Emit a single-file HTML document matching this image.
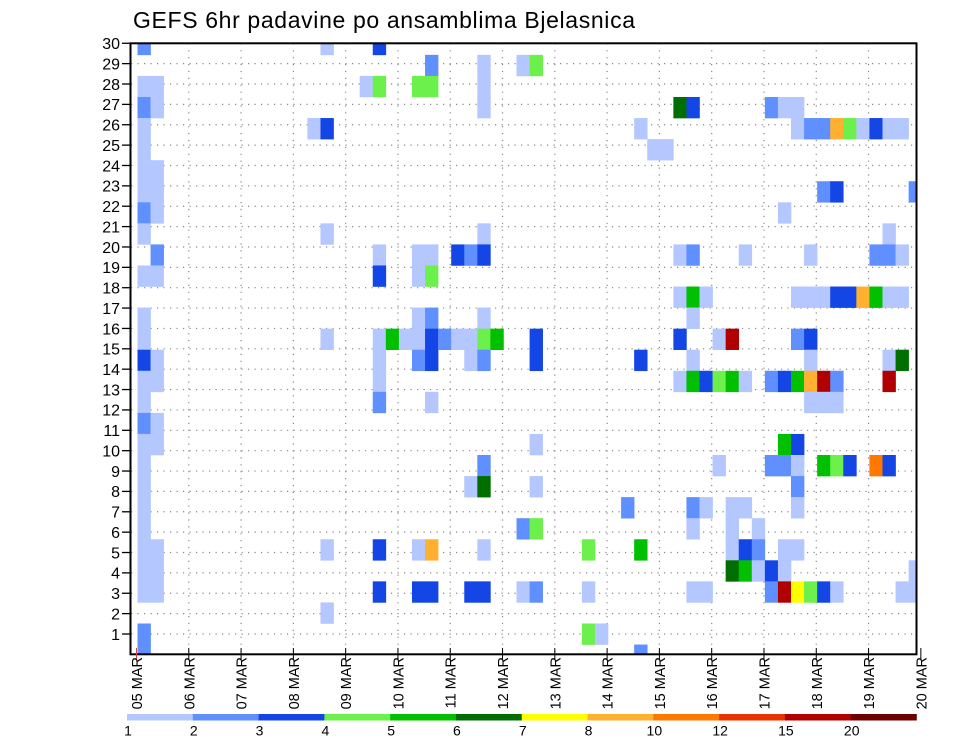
<!DOCTYPE html>
<html><head><meta charset="utf-8">
<style>
html,body{margin:0;padding:0;background:#fff;}
svg{display:block;font-family:"Liberation Sans",sans-serif;}
</style></head>
<body>
<svg id="chart" width="960" height="742" viewBox="0 0 960 742" xmlns="http://www.w3.org/2000/svg">
<text x="133" y="28" font-size="23" textLength="502" lengthAdjust="spacing" fill="#000">GEFS 6hr padavine po ansamblima Bjelasnica</text>
<g id="grid"></g>
<g id="cells"></g>
<rect x="130.5" y="43.3" width="786" height="611" fill="none" stroke="#000" stroke-width="2"/>
<g id="yaxis"></g>
<g id="xaxis"></g>
<g id="colorbar"></g>
</svg>
<script>
// ---- data ----
const dayLabels = ["05 MAR","06 MAR","07 MAR","08 MAR","09 MAR","10 MAR","11 MAR","12 MAR","13 MAR","14 MAR","15 MAR","16 MAR","17 MAR","18 MAR","19 MAR","20 MAR"];
const memberTicks = [1,2,3,4,5,6,7,8,9,10,11,12,13,14,15,16,17,18,19,20,21,22,23,24,25,26,27,28,29,30];
const levelBounds = [1,2,3,4,5,6,7,8,10,12,15,20];
const levelColors = ["#b4c8ff","#6090ff","#1446e6","#6cf04c","#00c000","#006e00","#ffff00","#ffb030","#ff7800","#e83200","#b00000","#700000"];
const cellRow = [];
const cellStep = [];
const cellValue = [];
const rowsData = [
 [[0,2],[14,1],[18,3]],
 [[22,2],[26,1],[29,1],[30,4]],
 [[0,1],[1,1],[17,1],[18,4],[21,4],[22,4],[26,1]],
 [[0,2],[1,1],[26,1],[41,6],[42,3],[48,2],[49,1],[50,1]],
 [[0,1],[13,1],[14,3],[38,1],[50,1],[51,2],[52,2],[53,8],[54,4],[55,1],[56,3],[57,1],[58,1]],
 [[0,1],[39,1],[40,1]],
 [[0,1],[1,1]],
 [[0,1],[1,1],[52,2],[53,3],[59,2]],
 [[0,2],[1,1],[49,1]],
 [[0,1],[14,1],[26,1],[57,1]],
 [[1,2],[18,1],[21,1],[22,1],[24,3],[25,2],[26,3],[41,1],[42,2],[46,1],[51,1],[56,2],[57,2],[58,1]],
 [[0,1],[1,1],[18,3],[21,1],[22,4]],
 [[41,1],[42,5],[43,1],[50,1],[51,1],[52,1],[53,3],[54,3],[55,8],[56,5],[57,1],[58,1]],
 [[0,1],[21,1],[22,2],[26,1],[42,1]],
 [[0,1],[14,1],[18,1],[19,5],[20,1],[21,1],[22,3],[23,2],[24,1],[25,1],[26,4],[27,5],[30,3],[41,3],[44,1],[45,15],[50,2],[51,3]],
 [[0,3],[1,1],[18,1],[21,2],[22,3],[25,1],[26,2],[30,3],[38,3],[42,1],[51,1],[57,1],[58,6]],
 [[0,1],[1,1],[18,1],[41,1],[42,5],[43,3],[44,4],[45,5],[46,1],[48,2],[49,3],[50,5],[51,8],[52,15],[53,2],[57,15]],
 [[0,1],[18,2],[22,1],[51,1],[52,1],[53,1]],
 [[0,2],[1,1]],
 [[0,1],[1,1],[30,1],[49,5],[50,3]],
 [[0,1],[26,2],[44,1],[48,2],[49,2],[50,1],[52,5],[53,4],[54,3],[56,10],[57,3]],
 [[0,1],[25,1],[26,6],[30,1],[50,2]],
 [[0,1],[37,2],[42,2],[43,1],[45,1],[46,1],[50,1]],
 [[0,1],[29,2],[30,4],[42,1],[45,1],[47,1]],
 [[0,1],[1,1],[14,1],[18,3],[21,1],[22,8],[26,1],[34,4],[38,5],[45,1],[46,3],[47,2],[49,1],[50,1]],
 [[0,1],[1,1],[45,6],[46,5],[47,1],[48,3],[49,1],[59,1]],
 [[0,1],[1,1],[18,3],[21,3],[22,3],[25,3],[26,3],[29,1],[30,2],[34,1],[42,1],[43,1],[48,2],[49,15],[50,7],[51,4],[52,3],[53,1],[58,1],[59,1]],
 [[14,1]],
 [[0,2],[34,4],[35,1]],
 [[0,2],[38,2]]
];
const levelValue = {1:1.5,2:2.5,3:3.5,4:4.5,5:5.5,6:6.5,7:7.5,8:9,10:11,12:13,15:17,20:25};
rowsData.forEach((row, r) => row.forEach(([s, l]) => { cellRow.push(r); cellStep.push(s); cellValue.push(levelValue[l]); }));

// ---- scales ----
const NS = "http://www.w3.org/2000/svg";
const plotL = 131, plotR = 916.5, plotT = 43.3, plotB = 654;
const dayX = d => 136.5 + 52.29 * d;
const stepX = s => 137.5 + 13.07 * s;
const stepW = 13.07;
const rowY = r => 33.8 + 21.06 * r;
const rowH = 21.06;
const tickY = v => 634 - 20.37 * (v - 1);
const colorFor = v => { let c = null; levelBounds.forEach((b, i) => { if (v >= b) c = levelColors[i]; }); return c; };
function mk(tag, attrs, parent) { const e = document.createElementNS(NS, tag); for (const k in attrs) e.setAttribute(k, attrs[k]); parent.appendChild(e); return e; }

const grid = document.getElementById('grid');
memberTicks.forEach(v => {
  if (v >= 30) return;
  const ln = mk('line', {x1: plotL, x2: plotR, y1: tickY(v), y2: tickY(v), stroke: '#888', 'stroke-width': 1.2, 'stroke-dasharray': '1.2 5.3'}, grid);
  
  
});
dayLabels.forEach((d, i) => {
  if (i === 0 || i === dayLabels.length - 1) return;
  const ln = mk('line', {x1: dayX(i), x2: dayX(i), y1: plotT, y2: plotB, stroke: '#888', 'stroke-width': 1.2, 'stroke-dasharray': '1.2 5.7'}, grid);
  
  
});

const cells = document.getElementById('cells');
mk('clipPath', {id: 'pc'}, document.getElementById('chart'));
mk('rect', {x: plotL, y: plotT, width: plotR - plotL, height: plotB - plotT}, document.getElementById('pc'));
cells.setAttribute('clip-path', 'url(#pc)');
for (let i = 0; i < cellValue.length; i++) {
  const c = colorFor(cellValue[i]);
  if (!c) continue;
  const rc = mk('rect', {x: stepX(cellStep[i]), y: rowY(cellRow[i]), width: stepW + 0.3, height: rowH + 0.3, fill: c}, cells);
  
  
}

const ya = document.getElementById('yaxis');
memberTicks.forEach(v => {
  mk('line', {x1: 122, x2: 131, y1: tickY(v), y2: tickY(v), stroke: '#000', 'stroke-width': 1.3}, ya);
  const t = mk('text', {x: 120, y: tickY(v) + 5.8, 'font-size': 16, 'text-anchor': 'end', fill: '#000'}, ya);
  t.textContent = v;
  
  
});

const xa = document.getElementById('xaxis');
dayLabels.forEach((d, i) => {
  const x = dayX(i);
  mk('line', {x1: x, x2: x, y1: plotB - 6, y2: plotB + 6, stroke: i === 0 ? '#c44' : '#000', 'stroke-width': 1}, xa);
  const t = mk('text', {x: 0, y: 0, 'font-size': 14.5, 'text-anchor': 'end', fill: '#000', transform: `translate(${x + 5.5},657) rotate(-90)`}, xa);
  t.textContent = d;
  
  
});

const cb = document.getElementById('colorbar');
const segW = (916.5 - 127) / levelColors.length;
levelColors.forEach((c, i) => {
  const r = mk('rect', {x: 127 + segW * i, y: 714, width: segW + 0.3, height: 6.5, fill: c}, cb);
  
  
  const t = mk('text', {x: 127 + segW * i + 1, y: 735.5, 'font-size': 14, 'text-anchor': 'middle', fill: '#000'}, cb);
  t.textContent = levelBounds[i];
  
  
});
</script>
</body></html>
